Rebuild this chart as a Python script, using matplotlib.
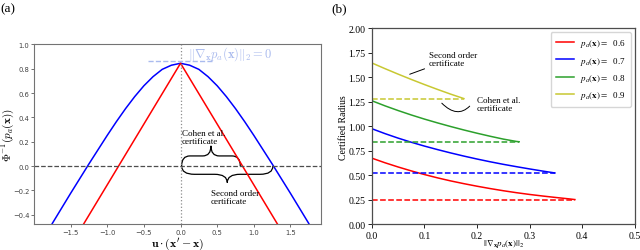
import numpy as np
import matplotlib
matplotlib.use("Agg")
import matplotlib.pyplot as plt
from matplotlib.path import Path
from matplotlib.patches import PathPatch

# ---- panel (a) data ----
shift = [-1.75, -1.5, -1.25, -1.0, -0.875, -0.75, -0.625, -0.5, -0.375, -0.25, -0.125, 0.0,
         0.125, 0.25, 0.375, 0.5, 0.625, 0.75, 0.875, 1.0, 1.25, 1.5, 1.75]
second_order = [-0.473, -0.225, 0.017, 0.252, 0.365, 0.472, 0.571, 0.66, 0.735, 0.795, 0.829, 0.845,
                0.829, 0.795, 0.735, 0.66, 0.571, 0.472, 0.365, 0.252, 0.017, -0.225, -0.473]
lin_shift = [-1.325, 0.0, 1.325]
first_order = [-0.48, 0.845, -0.48]
cohen_r = 0.845
second_r = 1.27

# ---- panel (b) data ----
probs = ["0.6", "0.7", "0.8", "0.9"]
colors = ["red", "blue", "#2ca02c", "#c8c832"]
grad_x = [
    [0.0, 0.025, 0.05, 0.075, 0.1, 0.125, 0.15, 0.175, 0.2, 0.225, 0.25, 0.275, 0.3, 0.325, 0.35, 0.375, 0.386],
    [0.0, 0.025, 0.05, 0.075, 0.1, 0.125, 0.15, 0.175, 0.2, 0.225, 0.25, 0.275, 0.3, 0.325, 0.348],
    [0.0, 0.025, 0.05, 0.075, 0.1, 0.125, 0.15, 0.175, 0.2, 0.225, 0.25, 0.275, 0.28],
    [0.0, 0.025, 0.05, 0.075, 0.1, 0.125, 0.15, 0.175],
]
radius_2nd = [
    [0.675, 0.628, 0.585, 0.545, 0.508, 0.474, 0.443, 0.415, 0.389, 0.365, 0.343, 0.323, 0.305, 0.289, 0.274, 0.260, 0.253],
    [0.975, 0.925, 0.879, 0.837, 0.798, 0.762, 0.728, 0.696, 0.666, 0.638, 0.612, 0.588, 0.565, 0.543, 0.524],
    [1.26, 1.208, 1.16, 1.115, 1.073, 1.034, 0.997, 0.962, 0.929, 0.898, 0.869, 0.845, 0.842],
    [1.645, 1.587, 1.531, 1.477, 1.425, 1.375, 1.327, 1.282],
]
radius_cohen = [0.253, 0.524, 0.842, 1.282]

fig = plt.figure(figsize=(6.4, 2.51), dpi=100)

#Left panel
ax1 = fig.add_axes([0.053, 0.102, 0.449, 0.717])
ax1.plot(shift, second_order, color="blue", lw=1.1)
ax1.plot(lin_shift, first_order, color="red", lw=1.1)
ax1.axhline(0, color="0.3", ls="--", lw=0.9)
ax1.axvline(0, color="0.55", ls=":", lw=0.9)
ax1.plot([-0.45, 0.45], [0.862, 0.862], color="#aabbee", ls="--", lw=1.0)
ax1.text(0.1, 0.925, r"$\|\nabla_\mathbf{x} p_a(\mathbf{x})\|_2 = 0$", color="#aabbee",
         fontsize=9, va="center", math_fontfamily="cm")
ax1.set_xlim(-2.0, 1.92)
ax1.set_ylim(-0.48, 1.0)
ax1.set_xticks([-1.5, -1.0, -0.5, 0.0, 0.5, 1.0, 1.5])
ax1.set_yticks([-0.4, -0.2, 0.0, 0.2, 0.4, 0.6, 0.8, 1.0])
ax1.tick_params(labelsize=4.9, length=2, width=0.6, pad=1.2, colors="0.35", labelcolor="0.25")
for s in ax1.spines.values():
    s.set_color("0.45")
    s.set_linewidth(0.8)
ax1.set_xlabel(r"$\mathbf{u}\cdot(\mathbf{x}'-\mathbf{x})$", fontsize=8.5, math_fontfamily="cm")
ax1.set_ylabel(r"$\Phi^{-1}(p_a(\mathbf{x}))$", fontsize=8, math_fontfamily="cm")
ax1.xaxis.set_label_coords(0.5, -0.055)
ax1.yaxis.set_label_coords(-0.062, 0.5)


def brace(ax, x0, x1, y, h, up):
    # curly brace drawn between x0 and x1, body at y+-h, tip beyond
    s = 1 if up else -1
    xm = (x0 + x1) / 2
    b = y + s * h
    t = y + s * 2 * h
    q = (x1 - x0) * 0.14
    verts = [(x0, y), (x0, b), (x0 + q, b),
             (xm - q, b), (xm, b), (xm, t),
             (xm, b), (xm + q, b),
             (x1 - q, b), (x1, b), (x1, y)]
    codes = [Path.MOVETO, Path.CURVE3, Path.CURVE3,
             Path.LINETO, Path.CURVE3, Path.CURVE3,
             Path.CURVE3, Path.CURVE3,
             Path.LINETO, Path.CURVE3, Path.CURVE3]
    ax.add_patch(PathPatch(Path(verts, codes), fill=False, lw=0.9, color="black"))


brace(ax1, 0.015, cohen_r - 0.03, 0.0, 0.083, True)
brace(ax1, 0.015, second_r - 0.01, 0.0, 0.068, False)
ax1.text(0.02, 0.24, "Cohen et al.\ncertificate", fontsize=6.5, family="Liberation Serif",
         va="center", ha="left", linespacing=1.0)
ax1.text(0.41, -0.255, "Second order\ncertificate", fontsize=6.5, family="Liberation Serif",
         va="center", ha="left", linespacing=1.0)
fig.text(0.0, 0.985, "(a)", fontsize=9.5, family="Liberation Serif", va="top")

#Right panel
ax2 = fig.add_axes([0.581, 0.102, 0.411, 0.782])
for i in range(len(probs)):
    ax2.plot(grad_x[i], radius_2nd[i], color=colors[i], lw=1.1,
             label=r"$p_a(\mathbf{x}) = $  " + probs[i])
    ax2.plot([0, grad_x[i][-1]], [radius_cohen[i], radius_cohen[i]], color=colors[i], ls="--", lw=1.1)
ax2.set_xlim(0, 0.5)
ax2.set_ylim(0, 2.0)
ax2.set_xticks([0.0, 0.1, 0.2, 0.3, 0.4, 0.5])
ax2.set_yticks([0.0, 0.25, 0.5, 0.75, 1.0, 1.25, 1.5, 1.75, 2.0])
ax2.set_yticklabels(["0.00", "0.25", "0.50", "0.75", "1.00", "1.25", "1.50", "1.75", "2.00"])
for lab in ax2.get_xticklabels() + ax2.get_yticklabels():
    lab.set_family("Liberation Serif")
ax2.tick_params(labelsize=7, length=3, width=0.6, pad=1.5)
for s in ax2.spines.values():
    s.set_color("0.3")
    s.set_linewidth(0.9)
ax2.set_xlabel(r"$||\nabla_\mathbf{x} p_a(\mathbf{x})||_2$", fontsize=6.5, math_fontfamily="stix")
ax2.set_ylabel("Certified Radius", fontsize=7, family="Liberation Serif")
ax2.xaxis.set_label_coords(0.5, -0.066)
ax2.yaxis.set_label_coords(-0.092, 0.5)
leg = ax2.legend(loc="upper right", prop={"family": "Liberation Serif", "size": 6.5},
                 handlelength=2.0, handletextpad=0.7, labelspacing=0.6, borderpad=0.6,
                 borderaxespad=0.4)
for t in leg.get_texts():
    t.set_math_fontfamily("stix")
ax2.annotate("Second order\ncertificate", xy=(0.072, 1.53), xytext=(0.108, 1.69),
             fontsize=6.5, family="Liberation Serif", va="center", ha="left", linespacing=1.0,
             arrowprops=dict(arrowstyle="-", lw=0.7, color="black", shrinkA=1, shrinkB=0))
ax2.text(0.2, 1.23, "Cohen et al.\ncertificate", fontsize=6.5, family="Liberation Serif",
         va="center", ha="left", linespacing=1.0)
ax2.annotate("", xy=(0.133, 1.235), xytext=(0.186, 1.205),
             arrowprops=dict(arrowstyle="-", lw=0.7, color="black",
                             connectionstyle="angle3,angleA=45,angleB=-45", shrinkA=0, shrinkB=0))
fig.text(0.518, 0.985, "(b)", fontsize=9.5, family="Liberation Serif", va="top")

fig.savefig("out.png", dpi=100)
